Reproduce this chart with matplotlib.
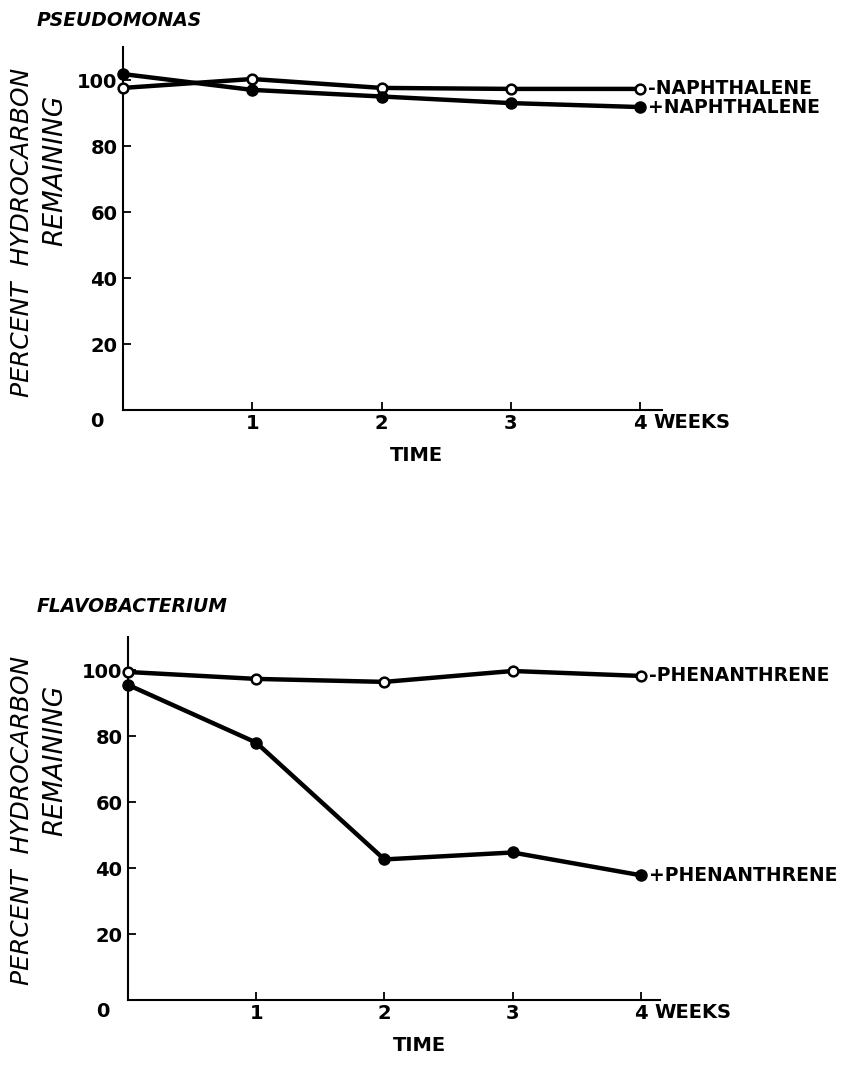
import matplotlib
matplotlib.use("Agg")
import matplotlib.pyplot as plt
import matplotlib.transforms as mtransforms

# data
weeks = [0, 1, 2, 3, 4]
naph_minus = [97.6, 100.3, 97.6, 97.3, 97.3]   # open circles
naph_plus = [101.8, 97.0, 95.0, 93.0, 91.8]    # filled circles
phen_minus = [99.4, 97.3, 96.4, 99.7, 98.2]
phen_plus = [95.5, 78.0, 42.6, 44.7, 37.8]
yticks = [20, 40, 60, 80, 100]
xticks = [1, 2, 3, 4]

W, H = 848, 1067
fig = plt.figure(figsize=(W / 100, H / 100), dpi=100)

FONT = "DejaVu Sans"


def px(x, y):
    # pixel position -> figure fraction
    return x / W, 1 - y / H


def panel(rect, title, title_xy, minus, plus, minus_lab, plus_lab, xmax):
    ax = fig.add_axes(rect)
    ax.plot(weeks, minus, color="black", lw=3.2, marker="o", ms=7,
            mfc="white", mec="black", mew=1.8, zorder=3, clip_on=False)
    ax.plot(weeks, plus, color="black", lw=3.2, marker="o", ms=8,
            mfc="black", mec="black", zorder=3, clip_on=False)
    ax.set_xlim(0, xmax)
    ax.set_ylim(0, 110)
    for s in ["top", "right"]:
        ax.spines[s].set_visible(False)
    for s in ["left", "bottom"]:
        ax.spines[s].set_linewidth(1.5)
    ax.set_yticks(yticks)
    ax.set_yticklabels([str(v) for v in yticks], fontsize=14,
                       fontweight="bold", family=FONT)
    ax.set_xticks(xticks)
    ax.set_xticklabels([str(v) for v in xticks], fontsize=14,
                       fontweight="bold", family=FONT)
    ax.tick_params(axis="both", direction="in", length=6, width=1.3)
    ax.tick_params(axis="y", pad=4)
    ax.tick_params(axis="x", pad=3)

    trans = mtransforms.blended_transform_factory(ax.transData, ax.transAxes)
    # origin label sits left of the corner
    ax.text(-0.2, -0.033, "0", transform=trans, ha="center", va="center",
            fontsize=14, fontweight="bold", family=FONT)
    ax.annotate("WEEKS", xy=(4, 0), xycoords=("data", "axes fraction"),
                xytext=(10, -9), textcoords="offset points", ha="left",
                va="center", fontsize=14, fontweight="bold", family=FONT)
    ax.text(2.27, -0.125, "TIME", transform=trans, ha="center", va="center",
            fontsize=14, fontweight="bold", family=FONT)

    ax.annotate(minus_lab, xy=(weeks[-1], minus[-1]), xytext=(6, 0),
                textcoords="offset points", ha="left", va="center",
                fontsize=13.5, fontweight="bold", family=FONT)
    ax.annotate(plus_lab, xy=(weeks[-1], plus[-1]), xytext=(6, 0),
                textcoords="offset points", ha="left", va="center",
                fontsize=13.5, fontweight="bold", family=FONT)

    fig.text(*px(*title_xy), title, ha="left", va="center", fontsize=13.5,
             fontweight="bold", style="italic", family=FONT)
    return ax


top = panel([123 / W, 1 - 410 / H, 539 / W, 363 / H], "PSEUDOMONAS", (37, 20),
            naph_minus, naph_plus, "-NAPHTHALENE", "+NAPHTHALENE", 4.17)
bot = panel([128 / W, 1 - 1000 / H, 532 / W, 363 / H], "FLAVOBACTERIUM", (37, 607),
            phen_minus, phen_plus, "-PHENANTHRENE", "+PHENANTHRENE", 4.15)

# y axis labels, two lines
for cy1, cy2 in [(232, 170), (820, 760)]:
    fig.text(*px(22, cy1), "PERCENT  HYDROCARBON", rotation=90, ha="center",
             va="center", fontsize=18, style="italic", family=FONT)
    fig.text(*px(55, cy2), "REMAINING", rotation=90, ha="center",
             va="center", fontsize=19, style="italic", family=FONT)

fig.savefig("out.png", dpi=100, facecolor="white")
